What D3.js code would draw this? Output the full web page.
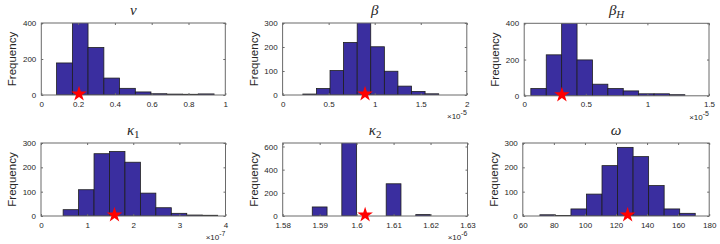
<!DOCTYPE html>
<html><head><meta charset="utf-8">
<script src="https://cdn.jsdelivr.net/npm/d3@7"></script>
<style>html,body{margin:0;padding:0;background:#fff;}svg{display:block;}</style>
</head><body>
<svg id="c" width="720" height="244"></svg>
<script>
// ---- data ----
const nuEdges = [0.083,0.169,0.254,0.340,0.425,0.511,0.596,0.682,0.767,0.853,0.939];
const nuCounts = [178,402,264,94,37,17,7,5,4,6];
const nuStar = 0.205;
const nuXTicks = [0,0.2,0.4,0.6,0.8,1];
const nuYTicks = [0,200,400];

const betaEdges = [0.220,0.367,0.515,0.662,0.810,0.957,1.105,1.252,1.400,1.547,1.695];
const betaCounts = [4,27,102,219,302,201,99,37,15,5];
const betaStar = 0.895;
const betaXTicks = [0,0.5,1,1.5,2];
const betaYTicks = [0,100,200,300];

const betaHEdges = [0.054,0.179,0.304,0.429,0.554,0.679,0.804,0.929,1.054,1.179,1.304];
const betaHCounts = [40,226,402,198,64,40,27,11,11,6];
const betaHStar = 0.306;
const betaHXTicks = [0,0.5,1,1.5];
const betaHYTicks = [0,200,400];

const kappa1Edges = [0.48,0.815,1.15,1.485,1.82,2.155,2.49,2.825,3.16,3.495,3.83];
const kappa1Counts = [26,108,256,265,221,94,34,11,4,3];
const kappa1Star = 1.593;
const kappa1XTicks = [0,1,2,3,4];
const kappa1YTicks = [0,100,200,300];

const kappa2Edges = [1.588,1.592,1.596,1.600,1.604,1.608,1.612,1.616,1.620];
const kappa2Counts = [78,0,640,0,0,278,0,12];
const kappa2Star = 1.6023;
const kappa2XTicks = [1.58,1.59,1.6,1.61,1.62,1.63];
const kappa2YTicks = [0,200,400,600];

const omegaEdges = [71,81,91,101,111,121,131,141,151,161,171];
const omegaCounts = [5,2,29,90,207,282,244,125,29,11];
const omegaStar = 127.5;
const omegaXTicks = [60,80,100,120,140,160,180];
const omegaYTicks = [0,100,200,300];

const panels = [
  {title:["ν",null], edges:nuEdges, counts:nuCounts, star:nuStar, xt:nuXTicks, yt:nuYTicks, xd:[0,1], yd:[0,400], exp:null, box:[41.3,23,225.3,95]},
  {title:["β",null], edges:betaEdges, counts:betaCounts, star:betaStar, xt:betaXTicks, yt:betaYTicks, xd:[0,2], yd:[0,300], exp:"-5", box:[282.6,23,466.8,95]},
  {title:["β","H"], edges:betaHEdges, counts:betaHCounts, star:betaHStar, xt:betaHXTicks, yt:betaHYTicks, xd:[0,1.5], yd:[0,400], exp:"-5", box:[524.2,23.3,709,95.8]},
  {title:["κ","1"], edges:kappa1Edges, counts:kappa1Counts, star:kappa1Star, xt:kappa1XTicks, yt:kappa1YTicks, xd:[0,4], yd:[0,300], exp:"-7", box:[41,143,225.5,216]},
  {title:["κ","2"], edges:kappa2Edges, counts:kappa2Counts, star:kappa2Star, xt:kappa2XTicks, yt:kappa2YTicks, xd:[1.58,1.63], yd:[0,630], exp:"-6", box:[282.7,143,467.5,216]},
  {title:["ω",null], edges:omegaEdges, counts:omegaCounts, star:omegaStar, xt:omegaXTicks, yt:omegaYTicks, xd:[60,180], yd:[0,300], exp:null, box:[522.8,143,709.2,216]}
];

const svg = d3.select("#c");
const font = "'Liberation Sans', Arial, Helvetica, sans-serif";
const axisCol = "#6a6a6a";
const textCol = "#262626";

panels.forEach((p,i) => {
  const [x0,y0,x1,y1] = p.box;
  const x = d3.scaleLinear().domain(p.xd).range([x0,x1]);
  const y = d3.scaleLinear().domain(p.yd).range([y1,y0]);
  const g = svg.append("g");
  const cid = "clip"+i;
  svg.append("clipPath").attr("id",cid).append("rect")
    .attr("x",x0).attr("y",y0).attr("width",x1-x0).attr("height",y1-y0);

  // bars
  const bins = p.counts.map((c,k)=>({a:p.edges[k], b:p.edges[k+1], c})).filter(d=>d.c>0);
  g.append("g").attr("clip-path",`url(#${cid})`).selectAll("rect").data(bins).join("rect")
    .attr("x",d=>x(d.a)).attr("width",d=>x(d.b)-x(d.a))
    .attr("y",d=>y(d.c)).attr("height",d=>y(0)-y(d.c))
    .attr("fill","#3a2e9f").attr("stroke","#1e1e1e").attr("stroke-width",0.8);

  // box
  g.append("rect").attr("x",x0).attr("y",y0).attr("width",x1-x0).attr("height",y1-y0)
    .attr("fill","none").attr("stroke",axisCol).attr("stroke-width",1);

  // axes (ticks inside)
  const xb = d3.axisBottom(x).tickValues(p.xt).tickSize(-2).tickPadding(6).tickFormat(d=>d3.format("~g")(d));
  const xt = d3.axisTop(x).tickValues(p.xt).tickSize(-2).tickFormat("");
  const yl = d3.axisLeft(y).tickValues(p.yt).tickSize(-2).tickPadding(5).tickFormat(d3.format("d"));
  const yr = d3.axisRight(y).tickValues(p.yt).tickSize(-2).tickFormat("");
  [[xb,`translate(0,${y1})`],[xt,`translate(0,${y0})`],[yl,`translate(${x0},0)`],[yr,`translate(${x1},0)`]].forEach(([ax,tr])=>{
    const a = g.append("g").attr("transform",tr).call(ax);
    a.select(".domain").remove();
    a.selectAll(".tick line").attr("stroke",axisCol);
    a.selectAll(".tick text").attr("fill",textCol).style("font-family",font).style("font-size","8px");
  });

  // y label
  g.append("text").attr("transform",`translate(${x0-25},${(y0+y1)/2}) rotate(-90)`)
    .attr("text-anchor","middle").attr("fill",textCol)
    .style("font-family",font).style("font-size","11.5px").text("Frequency");

  // title
  const t = g.append("text").attr("x",(x0+x1)/2).attr("y",y0-8.5).attr("text-anchor","middle")
    .attr("fill",textCol).style("font-family","'Liberation Serif','Times New Roman',serif");
  t.append("tspan").style("font-style","italic").style("font-size","15px").text(p.title[0]);
  if (p.title[1]) {
    const isNum = /\d/.test(p.title[1]);
    t.append("tspan").attr("dy",3).style("font-size","11px")
      .style("font-style", isNum ? "normal" : "italic").text(p.title[1]);
  }

  // exponent
  if (p.exp) {
    const e = g.append("text").attr("x",x1).attr("y",y1+24).attr("text-anchor","end")
      .attr("fill",textCol).style("font-family",font).style("font-size","8px");
    e.append("tspan").text("×10");
    e.append("tspan").attr("dy",-4).style("font-size","7px").text(p.exp);
  }

  // star
  g.append("path").attr("d",d3.symbol().type(d3.symbolStar).size(75)())
    .attr("transform",`translate(${x(p.star)},${y(0)-1})`)
    .attr("fill","#ff0000");
});
</script>
</body></html>
